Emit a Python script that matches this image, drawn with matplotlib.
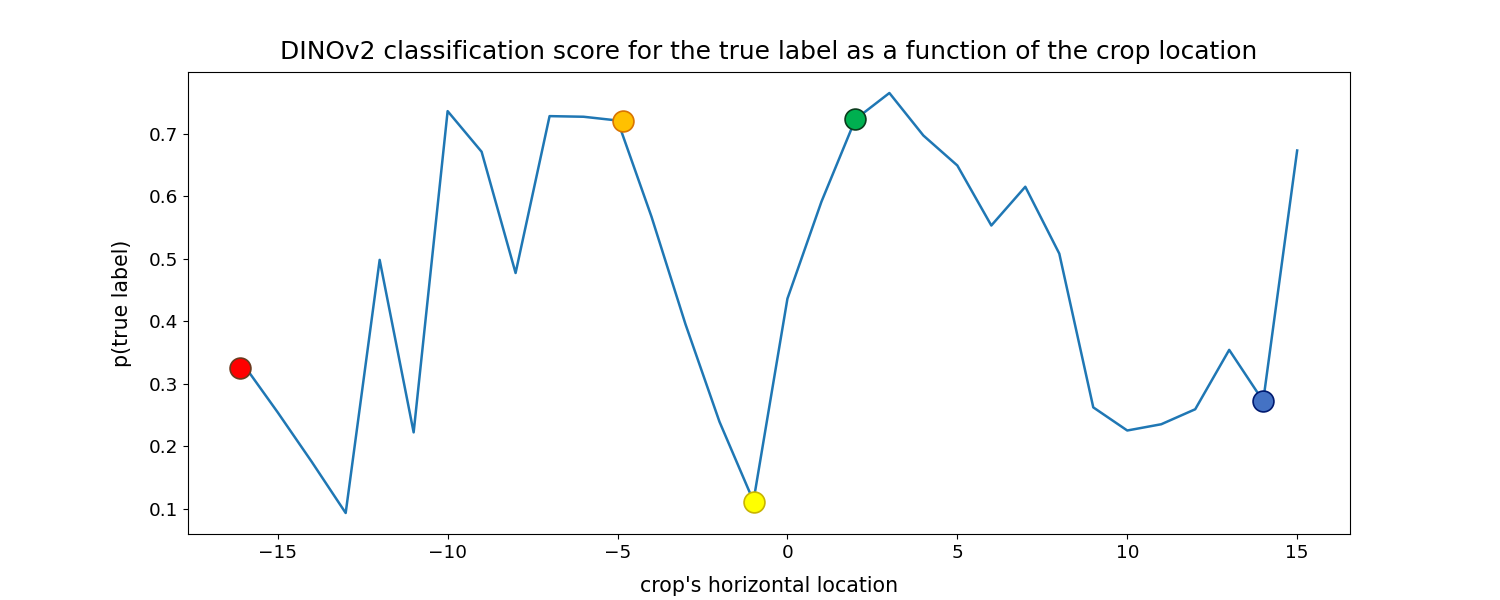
import matplotlib
matplotlib.use("Agg")
import matplotlib.pyplot as plt

# crop offsets and scores
x_loc = list(range(-16, 16))
p_true = [0.330, 0.254, 0.175, 0.093, 0.498, 0.222, 0.736, 0.671, 0.477, 0.728,
          0.727, 0.721, 0.567, 0.395, 0.239, 0.112, 0.436, 0.591, 0.723, 0.765,
          0.697, 0.649, 0.553, 0.615, 0.508, 0.262, 0.225, 0.235, 0.259, 0.354,
          0.272, 0.673]

# highlighted points
hl_x = [-16.1, -4.83, -0.97, 1.98, 14.0]
hl_y = [0.325, 0.720, 0.110, 0.723, 0.272]
hl_face = ["#FF0000", "#FFC000", "#FFFF00", "#00B050", "#4472C4"]
hl_edge = ["#6B3A1E", "#D97400", "#C8B400", "#0B3B1C", "#001A70"]

fig, ax = plt.subplots(figsize=(15, 6), dpi=100)
ax.plot(x_loc, p_true, color="#1f77b4", linewidth=1.8)
for xx, yy, fc, ec in zip(hl_x, hl_y, hl_face, hl_edge):
    ax.plot(xx, yy, marker="o", markersize=15, markerfacecolor=fc,
            markeredgecolor=ec, markeredgewidth=1.2, linestyle="none", zorder=3)

ax.set_title("DINOv2 classification score for the true label as a function of the crop location",
             fontsize=17.9, pad=9)
ax.set_xlabel("crop's horizontal location", fontsize=14.8, labelpad=10)
ax.set_ylabel("p(true label)", fontsize=14.8, labelpad=12)
ax.tick_params(labelsize=13.3)
fig.savefig("out.png", dpi=100)
